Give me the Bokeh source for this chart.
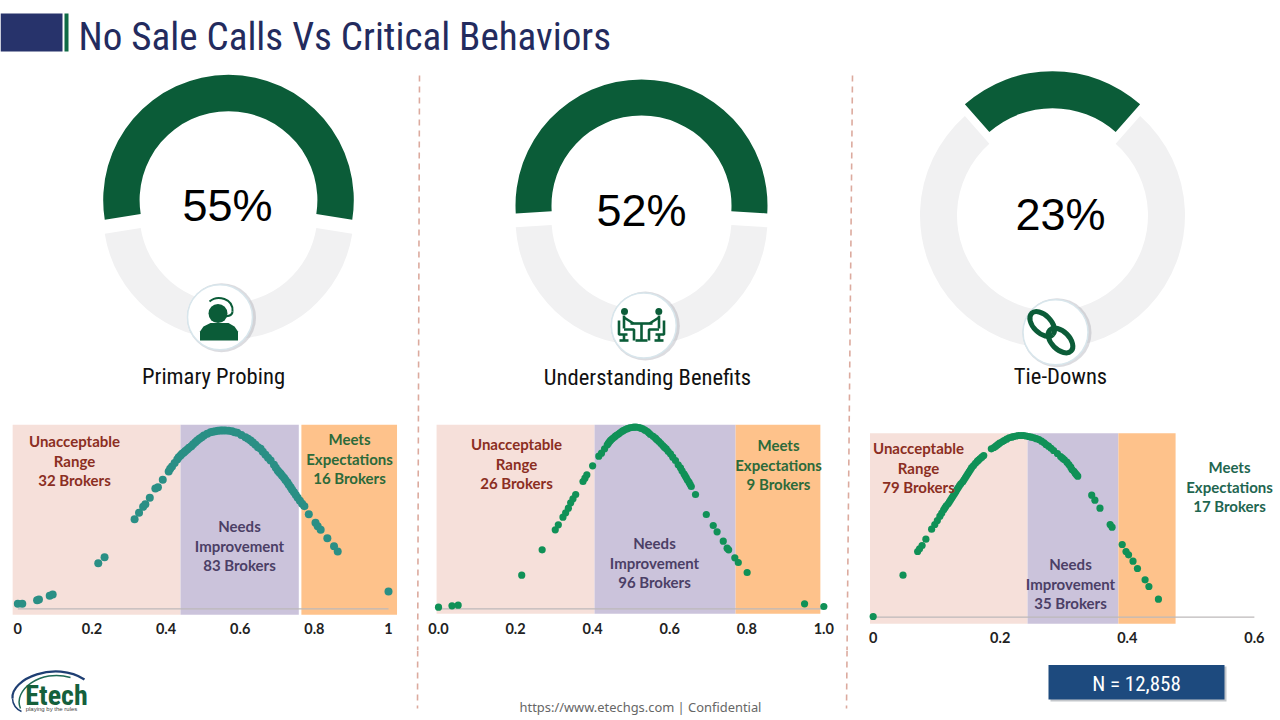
from math import pi
from bokeh.core.properties import value
from bokeh.embed import file_html
from bokeh.layouts import column, row
from bokeh.models import FixedTicker, LinearAxis, Range1d
from bokeh.plotting import figure
from bokeh.resources import INLINE

# ---------- data ----------
critical_names = ["Primary Probing", "Understanding Benefits", "Tie-Downs"]
critical_pct = [55, 52, 23]

c1_x = [0.0, .012, .052, .057, .086, .094, .217, .234, .315, .327, .338, .344, .356, .371, .378, .391, .407, .416, .430, .439, .448, .457, .468, .479, .490, .502, .520, .533, .547, .560, .578, .592, .614, .628, .641, .655, .668, .682, .691, .701, .709, .718, .727, .736, .745, .755, .767, .773, .785, .803, .809, .817, .835, .853, .863, 1.0,
        .411, .423, .434, .443, .452, .462, .473, .484, .496, .511, .526, .540, .553, .569, .585, .603, .621, .634, .648, .661, .675, .696, .705, .713, .722, .731, .740, .750, .761]
c1_y = [3.0, 3.0, 5.2, 5.6, 7.8, 8.6, 27.4, 31, 53.8, 57.6, 61.2, 62.8, 66.6, 72.2, 73, 77.4, 82.4, 85.4, 89.6, 92, 93.8, 95.6, 97.6, 100, 102, 104, 106, 106.6, 107, 107, 106.6, 105.6, 103, 101, 98.4, 96, 92.4, 89, 86.4, 83, 81, 78.6, 76, 73, 70, 66.6, 63, 61.6, 56.8, 51.6, 49.6, 47.4, 42.4, 37.6, 34.4, 10.4,
        84, 87.5, 91, 93, 94.7, 96.6, 98.8, 101, 103, 105, 106.3, 106.8, 107, 106.9, 106, 104.3, 102, 99.8, 97, 94.2, 90.7, 84.7, 82, 79.8, 77.3, 74.5, 71.5, 68.3, 64.8]
c2_x = [0, .035, .051, .216, .269, .303, .311, .323, .330, .337, .343, .349, .356, .375, .380, .385, .400, .416, .423, .438, .444, .451, .459, .468, .477, .485, .496, .507, .520, .530, .542, .550, .563, .572, .582, .591, .602, .615, .622, .628, .637, .643, .650, .656, .667, .695, .713, .723, .739, .749, .753, .769, .778, .801, .950, 1.0,
        .431, .441, .447, .455, .463, .472, .481, .490, .502, .513, .525, .536, .546, .557, .567, .577, .586, .596, .608, .632, .640, .646, .653]
c2_y = [1, 1.8, 2.2, 20.2, 35.4, 47.4, 50.4, 55, 57.6, 60.4, 63.6, 66, 68.6, 76.4, 78.4, 80.4, 85.8, 91.6, 93.4, 98.4, 100.4, 102, 103.6, 105, 106.6, 107.6, 108.6, 109, 108.8, 108, 106.4, 104.6, 102.4, 100.4, 98, 96, 93, 89, 86.4, 84.6, 81, 78.6, 76, 73.4, 68.6, 56.6, 50, 46.2, 40.6, 36.4, 35.4, 30.6, 27.8, 21.8, 3, 1.4,
        96, 99.4, 101.2, 102.8, 104.3, 105.8, 107.1, 108.1, 108.8, 109, 108.4, 107.2, 105.5, 103.5, 101.4, 99.2, 97, 94.5, 91, 82.8, 79.8, 77.3, 74.7]
c3_x = [0, .047, .070, .073, .077, .083, .092, .097, .101, .105, .111, .115, .120, .124, .128, .132, .136, .141, .145, .149, .153, .158, .164, .168, .174, .186, .193, .199, .206, .214, .221, .229, .237, .245, .253, .261, .269, .276, .284, .295, .301, .308, .313, .318, .322, .344, .349, .357, .373, .376, .392, .398, .402, .409, .416, .428, .434, .449,
        .108, .113, .118, .122, .126, .130, .134, .138, .143, .147, .151, .155, .161, .166, .171, .190, .196, .203, .210, .218, .225, .233, .241, .249, .257, .265, .272, .280, .290, .298, .305, .311, .316, .320]
c3_y = [.4, 25.2, 39.4, 41, 43, 46.8, 52.8, 55.6, 58, 60.6, 64.4, 66.8, 69.2, 71.6, 74, 76.6, 79, 81.2, 83.6, 86, 88.4, 91, 93.6, 95, 97, 101, 102.6, 104.4, 106, 107.6, 108.4, 109, 109, 108.4, 107.6, 106.6, 104.6, 102.6, 100, 96.4, 94.4, 91.6, 88.6, 86.4, 84.6, 73.2, 70.2, 65.4, 55.6, 54, 43.6, 39.4, 37.4, 33.6, 29.2, 22.4, 18.4, 10.8,
        62.5, 65.6, 68, 70.4, 72.8, 75.3, 77.8, 80, 82.4, 84.8, 87.2, 89.7, 92.3, 94.3, 96, 101.8, 103.5, 105.2, 106.8, 108, 108.7, 109, 108.7, 108, 107.1, 105.6, 103.6, 101.3, 98.2, 95.4, 93, 90, 87.5, 85.5]

c1_band_left = [-.014, .439, .765]
c1_band_right = [.439, .758, 1.023]
c2_band_left = [-.005, .405, .771]
c2_band_right = [.405, .771, .991]
c3_band_left = [-.005, .243, .386]
c3_band_right = [.243, .386, .476]

c1_ticks = [0, .2, .4, .6, .8, 1]
c1_tick_labels = ["0", "0.2", "0.4", "0.6", "0.8", "1"]
c2_ticks = [0, .2, .4, .6, .8, 1]
c2_tick_labels = ["0.0", "0.2", "0.4", "0.6", "0.8", "1.0"]
c3_ticks = [0, .2, .4, .6]
c3_tick_labels = ["0", "0.2", "0.4", "0.6"]

c1_text = [["Unacceptable", "Range", "32 Brokers"], ["Needs", "Improvement", "83 Brokers"], ["Meets", "Expectations", "16 Brokers"]]
c2_text = [["Unacceptable", "Range", "26 Brokers"], ["Needs", "Improvement", "96 Brokers"], ["Meets", "Expectations", "9 Brokers"]]
c3_text = [["Unacceptable", "Range", "79 Brokers"], ["Needs", "Improvement", "35 Brokers"], ["Meets", "Expectations", "17 Brokers"]]

# ---------- style ----------
GREEN = "#0b5c38"
GREY = "#f1f1f2"
NARROW = value("Roboto Condensed")
SANS = value("Liberation Sans")
LATO = value("Lato")
BAND_COLORS = ["#f6e0da", "#cbc3db", "#fec28b"]
SEP = "#dcaa9e"
L, R = 0, 1280


def sep_x(y, top_x, bottom_x):
    return top_x + (bottom_x - top_x) * (y - 75) / (708 - 75)


# ---------- top: header and gauges ----------
top = figure(width=1280, height=415, output_backend="svg", toolbar_location=None,
             x_range=Range1d(L, R), y_range=Range1d(305, 720),
             x_axis_location=None, y_axis_location=None, min_border=0, outline_line_color=None)
top.grid.visible = False


def Y(y):
    return 720 - y


top.quad(left=[L], right=[62], top=[Y(13)], bottom=[Y(51)], fill_color="#27336b", line_color=None)
top.quad(left=[64], right=[68], top=[Y(13)], bottom=[Y(51)], fill_color="#0f6b45", line_color=None)
top.text([78], [Y(36)], ["No Sale Calls Vs Critical Behaviors"], text_font=NARROW, text_font_size="39.1px",
         text_color="#232b5e", text_baseline="middle")

gauge_cx = [228, 641, 1052]
green_cy = [199.6, 205, 203.2]
grey_cy = [213.6, 218.8, 215]
r_out = [125.3, 126, 132.5]
r_in = [88.9, 90, 95.5]
value_pos = [(227, 205), (641, 210), (1060, 214)]
name_pos = [(213, 376), (647, 377), (1060, 376)]

for i, v in enumerate(critical_pct):
    half = v / 100 * pi
    top.annular_wedge([gauge_cx[i]], [Y(grey_cy[i])], r_in[i], r_out[i],
                      pi / 2 + half, pi / 2 - half + 2 * pi, fill_color=GREY, line_color=None)
    top.annular_wedge([gauge_cx[i]], [Y(green_cy[i])], r_in[i], r_out[i],
                      pi / 2 - half, pi / 2 + half, fill_color=GREEN, line_color=None)
    top.text([value_pos[i][0]], [Y(value_pos[i][1])], [f"{v}%"], text_font=SANS, text_font_size="45px",
             text_color="#000000", text_align="center", text_baseline="middle")
    top.text([name_pos[i][0]], [Y(name_pos[i][1])], [critical_names[i]], text_font=NARROW, text_font_size="22.6px",
             text_color="#111111", text_align="center", text_baseline="middle")

# icon discs
icon_c = [(219.5, 316.7), (643.3, 325), (1055, 331.7)]
for cx, cy in icon_c:
    top.circle([cx + 1.5], [Y(cy + 0.5)], radius=34.5, fill_color="#9a9aa5", fill_alpha=.35, line_color=None)
    top.circle([cx], [Y(cy)], radius=32.5, fill_color="#ffffff", line_color="#d8e6ec", line_width=1.5)

# headset person
top.circle([217.5], [Y(313)], radius=9.5, fill_color=GREEN, line_color=None)
top.patch([199.5, 199.5, 203, 210, 228, 234, 237.5, 237.5],
          [Y(340), Y(331), Y(326), Y(322.5), Y(322.5), Y(326), Y(331), Y(340)], fill_color=GREEN, line_color=None)
top.bezier([209], [Y(301)], [232], [Y(311)], [217], [Y(294)], [233], [Y(298)], line_color=GREEN, line_width=2)
top.bezier([232], [Y(311)], [222], [Y(316)], [232], [Y(316)], [226], [Y(316)], line_color=GREEN, line_width=2)

# two people at a table
top.circle([624, 658.3], [Y(311), Y(311)], radius=3.5, fill_color=GREEN, line_color=None)
top.multi_line(
    [[630, 652], [641, 641], [635, 647], [623.5, 623.5], [623.5, 633], [623.5, 633.5, 633.5], [618.5, 618.5, 627], [623.5, 623.5], [619, 628],
     [658.5, 658.5], [658.5, 649], [658.5, 648.5, 648.5], [663.5, 663.5, 655], [658.5, 658.5], [654, 663]],
    [[Y(323), Y(323)], [Y(323), Y(340)], [Y(340), Y(340)], [Y(315), Y(328)], [Y(317), Y(323)], [Y(329), Y(329), Y(340)], [Y(320), Y(334), Y(334)], [Y(334), Y(340)], [Y(340), Y(340)],
     [Y(315), Y(328)], [Y(317), Y(323)], [Y(329), Y(329), Y(340)], [Y(320), Y(334), Y(334)], [Y(334), Y(340)], [Y(340), Y(340)]],
    line_color=GREEN, line_width=2.6)

# chain links
top.ellipse([1041.7, 1060], [Y(323.5), Y(340)], width=30, height=18, angle=-pi / 4, fill_color=None,
            line_color=GREEN, line_width=5)

top.line([sep_x(75, 419, 417), sep_x(415, 419, 417)], [Y(75), Y(415)], line_color=SEP, line_width=1.6, line_dash=[6, 5])
top.line([sep_x(75, 852, 846), sep_x(415, 852, 846)], [Y(75), Y(415)], line_color=SEP, line_width=1.6, line_dash=[6, 5])


# ---------- bottom charts ----------
def chart(px_left, px_right, x0_px, k, base_px, xs, ys, lefts, rights, band_bottom, band_top, ticks, tick_labels,
          axis_y, texts, text_pos, text_colors, size, color):
    h = figure(width=px_right - px_left, height=235, output_backend="svg", toolbar_location=None,
               x_range=Range1d((px_left - x0_px) / k, (px_right - x0_px) / k),
               y_range=Range1d((base_px - 650) / (5 / 3), (base_px - 415) / (5 / 3)),
               x_axis_location=None, y_axis_location=None, min_border=0, outline_line_color=None)
    h.grid.visible = False
    h.extra_x_ranges["px"] = Range1d(px_left, px_right)
    h.extra_y_ranges["px"] = Range1d(650, 415)
    h.quad(left=lefts, right=rights, bottom=band_bottom, top=band_top, fill_color=BAND_COLORS, line_color=None)
    h.line([ticks[0], ticks[-1]], [0, 0], line_color="#bdb9ba", line_width=1.2)
    h.scatter(xs, ys, size=size, fill_color=color, line_color=None)
    ax = LinearAxis(fixed_location=axis_y, ticker=FixedTicker(ticks=ticks),
                    major_label_overrides=dict(zip(ticks, tick_labels)),
                    axis_line_color=None, major_tick_line_color=None, minor_tick_line_color=None,
                    major_label_text_font="Lato", major_label_text_font_style="bold",
                    major_label_text_font_size="14.5px", major_label_text_color="#222222", major_label_standoff=3)
    h.add_layout(ax, "below")
    for block, (tx, ty), col in zip(texts, text_pos, text_colors):
        for j, s in enumerate(block):
            h.text([tx], [ty + j * 19.5], [s], x_range_name="px", y_range_name="px", text_font=LATO,
                   text_font_style="bold", text_font_size="15px", text_color=col, text_align="center",
                   text_baseline="middle")
    return h


RED, PUR, GRN = "#8b2e22", "#4b3f66", "#2c6a3a"
a = chart(0, 420, 17.33, 370.67, 608.33, c1_x, c1_y, c1_band_left, c1_band_right, -3.6, 110.4, c1_ticks, c1_tick_labels,
          -3.2, c1_text, [(74, 440.5), (239, 525.5), (349, 438.5)], [RED, PUR, GRN], 8, "#2a8f85")
b = chart(420, 851, 438, 385.33, 608.33, c2_x, c2_y, c2_band_left, c2_band_right, -3, 110.4, c2_ticks, c2_tick_labels,
          -3.2, c2_text, [(516, 443.5), (654, 542.5), (778, 444.5)], [RED, PUR, GRN], 7.2, "#109157")
c = chart(851, 1280, 872.67, 635.33, 616.67, c3_x, c3_y, c3_band_left, c3_band_right, -4, 110.4, c3_ticks, c3_tick_labels,
          -3.2, c3_text, [(918, 447.5), (1070, 563.5), (1229, 466.5)], [RED, PUR, "#1f6650"], 7.2, "#109157")
a.line([sep_x(415, 419, 417), sep_x(650, 419, 417)], [415, 650], x_range_name="px", y_range_name="px",
       line_color=SEP, line_width=1.6, line_dash=[6, 5])
b.line([sep_x(415, 852, 846), sep_x(650, 852, 846)], [415, 650], x_range_name="px", y_range_name="px",
       line_color=SEP, line_width=1.6, line_dash=[6, 5])

# ---------- footer ----------
foot = figure(width=1280, height=70, output_backend="svg", toolbar_location=None,
              x_range=Range1d(L, R), y_range=Range1d(720, 650),
              x_axis_location=None, y_axis_location=None, min_border=0, outline_line_color=None)
foot.grid.visible = False
foot.line([sep_x(650, 419, 417), sep_x(708, 419, 417)], [650, 708], line_color=SEP, line_width=1.6, line_dash=[6, 5])
foot.line([sep_x(650, 852, 846), sep_x(708, 852, 846)], [650, 708], line_color=SEP, line_width=1.6, line_dash=[6, 5])
foot.bezier([84], [679], [12], [698], [55], [660], [10], [678], line_color="#1f3f73", line_width=2.2)
foot.bezier([12], [698], [21], [711], [12], [704], [16], [709], line_color="#1f3f73", line_width=1.5)
foot.bezier([70], [677], [20], [708], [40], [668], [12], [690], line_color="#1f6a55", line_width=1.5)
foot.text([56], [695], ["Etech"], text_font=NARROW, text_font_style="bold", text_font_size="28px", text_color="#15603c",
          text_align="center", text_baseline="middle")
foot.text([51], [708], ["playing by the rules"], text_font=SANS, text_font_size="6px", text_color="#444444",
          text_align="center", text_baseline="middle")
foot.text([640], [706.5], ["https://www.etechgs.com | Confidential"], text_font=value("Noto Sans"), text_font_size="12.9px",
          text_color="#666666", text_align="center", text_baseline="middle")
foot.quad(left=[1050], right=[1226], top=[666], bottom=[701], fill_color="#8a8f98", fill_alpha=.5, line_color=None)
foot.quad(left=[1048], right=[1224], top=[664.5], bottom=[699], fill_color="#1d4a7e", line_color=None)
foot.text([1136], [683], ["N = 12,858"], text_font=NARROW, text_font_size="21px", text_color="#ffffff",
          text_align="center", text_baseline="middle")

page = column(top, row(a, b, c, spacing=0), foot, spacing=0)
open("out.html", "w").write(file_html(page, INLINE))
